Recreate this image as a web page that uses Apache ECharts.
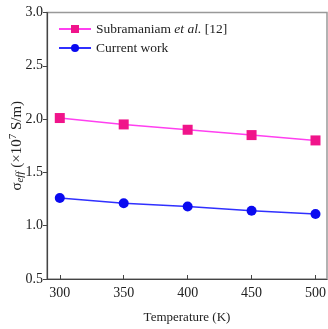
<!DOCTYPE html>
<html><head><meta charset="utf-8">
<script src="https://cdn.jsdelivr.net/npm/echarts@6/dist/echarts.min.js"></script>
<style>html,body{margin:0;padding:0;background:#fff}#c{width:328px;height:329px}</style>
</head><body><div id="c"></div>
<script>
var temperatures = [300, 350, 400, 450, 500];
var subramaniam = [2.01, 1.95, 1.90, 1.85, 1.80];
var currentWork = [1.26, 1.21, 1.18, 1.14, 1.11];
var xTicks = [300, 350, 400, 450, 500];
var yTicks = [0.5, 1.0, 1.5, 2.0, 2.5, 3.0];

var font = 'Liberation Serif';
var chart = echarts.init(document.getElementById('c'));
function pairs(v){ return temperatures.map(function(t,i){return [t, v[i]];}); }
chart.setOption({
  animation: false,
  textStyle: {fontFamily: font},
  grid: {left: 47, right: 1, top: 12.5, bottom: 50, show: true, borderColor: '#999', borderWidth: 1.5,
         containLabel: false, outerBoundsMode: 'none'},
  legend: {
    left: 53, top: 17, orient: 'vertical', itemGap: 5, itemWidth: 32, itemHeight: 10,
    textStyle: {fontFamily: font, fontSize: 13.5, color: '#222',
      rich: {i: {fontFamily: font, fontSize: 13.5, fontStyle: 'italic', color: '#222'}, n: {fontFamily: font, fontSize: 13.5, color: '#222'}}},
    formatter: function(n){
      if (n.indexOf('et al.') >= 0) return '{n|Subramaniam }{i|et al.}{n| [12]}';
      return '{n|' + n + '}';
    },
    data: ['Subramaniam et al. [12]', 'Current work']
  },
  xAxis: {
    type: 'value', min: 290, max: 509,
    name: 'Temperature (K)', nameLocation: 'middle', nameGap: 32, nameMoveOverlap: false,
    nameTextStyle: {fontFamily: font, fontSize: 13, color: '#222'},
    axisLine: {lineStyle: {color: '#444', width: 1.2}},
    axisTick: {inside: true, length: 4, lineStyle: {color: '#444'}, customValues: xTicks},
    axisLabel: {fontFamily: font, fontSize: 14, color: '#222', margin: 7, customValues: xTicks},
    splitLine: {show: false}
  },
  yAxis: {
    type: 'value', min: 0.5, max: 3.0, interval: 0.5,
    name: '{s|σ}{sub|eff}{s| (×10}{sup|7}{s| S/m)}', nameLocation: 'middle', nameGap: 21, nameRotate: 90,
    nameMoveOverlap: false,
    nameTextStyle: {fontFamily: font, fontSize: 15, color: '#222',
      rich: {s: {fontFamily: font, fontSize: 15, color: '#222'},
             sub: {fontFamily: font, fontSize: 11, fontStyle: 'italic', color: '#222', verticalAlign: 'bottom', padding: [7,0,0,0]},
             sup: {fontFamily: font, fontSize: 11, color: '#222', verticalAlign: 'top', padding: [0,0,7,0]}}},
    axisLine: {show: true, lineStyle: {color: '#444', width: 1.2}},
    axisTick: {show: true, inside: false, length: 4, lineStyle: {color: '#444'}},
    axisLabel: {fontFamily: font, fontSize: 14, color: '#222', margin: 4,
      formatter: function(v){ return v.toFixed(1); }},
    splitLine: {show: false}
  },
  series: [
    {name: 'Subramaniam et al. [12]', type: 'line', data: pairs(subramaniam),
     symbol: 'rect', symbolSize: 10,
     itemStyle: {color: '#f0148a'}, lineStyle: {color: '#ff40f0', width: 1.5}},
    {name: 'Current work', type: 'line', data: pairs(currentWork),
     symbol: 'circle', symbolSize: 10,
     itemStyle: {color: '#0a0af0'}, lineStyle: {color: '#3030ff', width: 1.5}}
  ]
});
</script></body></html>
